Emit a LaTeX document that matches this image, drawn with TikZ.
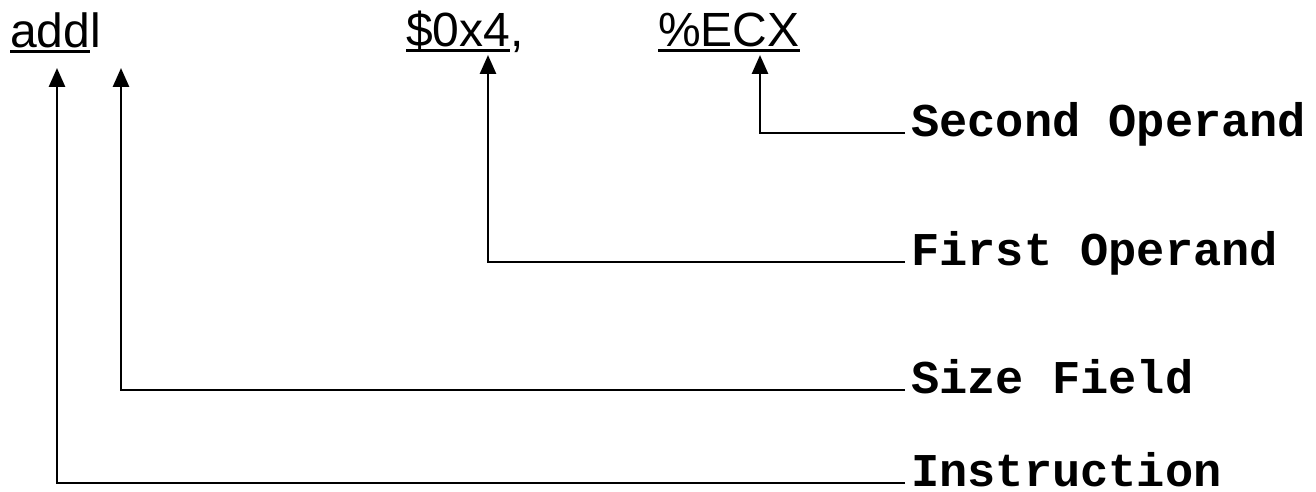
\documentclass[tikz,border=0pt]{standalone}
\usepackage{fontspec}
\usetikzlibrary{arrows.meta}
\newfontfamily\insfont{Liberation Sans}
\newfontfamily\lblfont{Liberation Mono}
\newcommand\ulbox[1]{\setbox0\hbox{#1}\rlap{\rule[-5.5pt]{\wd0}{3pt}}\box0}
\tikzset{
  instr/.style={anchor=base west, inner sep=0pt, font=\insfont\fontsize{48}{56}\selectfont},
  lbl/.style={anchor=base west, inner sep=0pt, font=\lblfont\bfseries\fontsize{47}{54}\selectfont},
  arr/.style={line width=2.8pt, -{Triangle[width=16pt,length=19pt]}}
}
\begin{document}
\begin{tikzpicture}[x=1pt,y=-1pt]
\useasboundingbox (0,0) rectangle (1316,492);
% instruction text
\node[instr] (addl) at (10,48) {\ulbox{add}l};
\node[instr] (op1) at (406,47) {\ulbox{\$0x4},};
\node[instr] (op2) at (658,47) {\ulbox{\%ECX}};
% arrow tips
\coordinate (tipI) at (57,68);
\coordinate (tipS) at (121,68);
\coordinate (tipF) at (488,55);
\coordinate (tipE) at (760,55);
% labels
\node[lbl] (lblE) at (911,136) {Second Operand};
\node[lbl] (lblF) at (911,265) {First Operand};
\node[lbl] (lblS) at (911,393) {Size Field};
\node[lbl] (lblI) at (911,486) {Instruction};
% connectors
\draw[arr] ([xshift=-6pt,yshift=3pt]lblE.base west) -| (tipE);
\draw[arr] ([xshift=-6pt,yshift=3pt]lblF.base west) -| (tipF);
\draw[arr] ([xshift=-6pt,yshift=3pt]lblS.base west) -| (tipS);
\draw[arr] ([xshift=-6pt,yshift=3pt]lblI.base west) -| (tipI);
\end{tikzpicture}
\end{document}
